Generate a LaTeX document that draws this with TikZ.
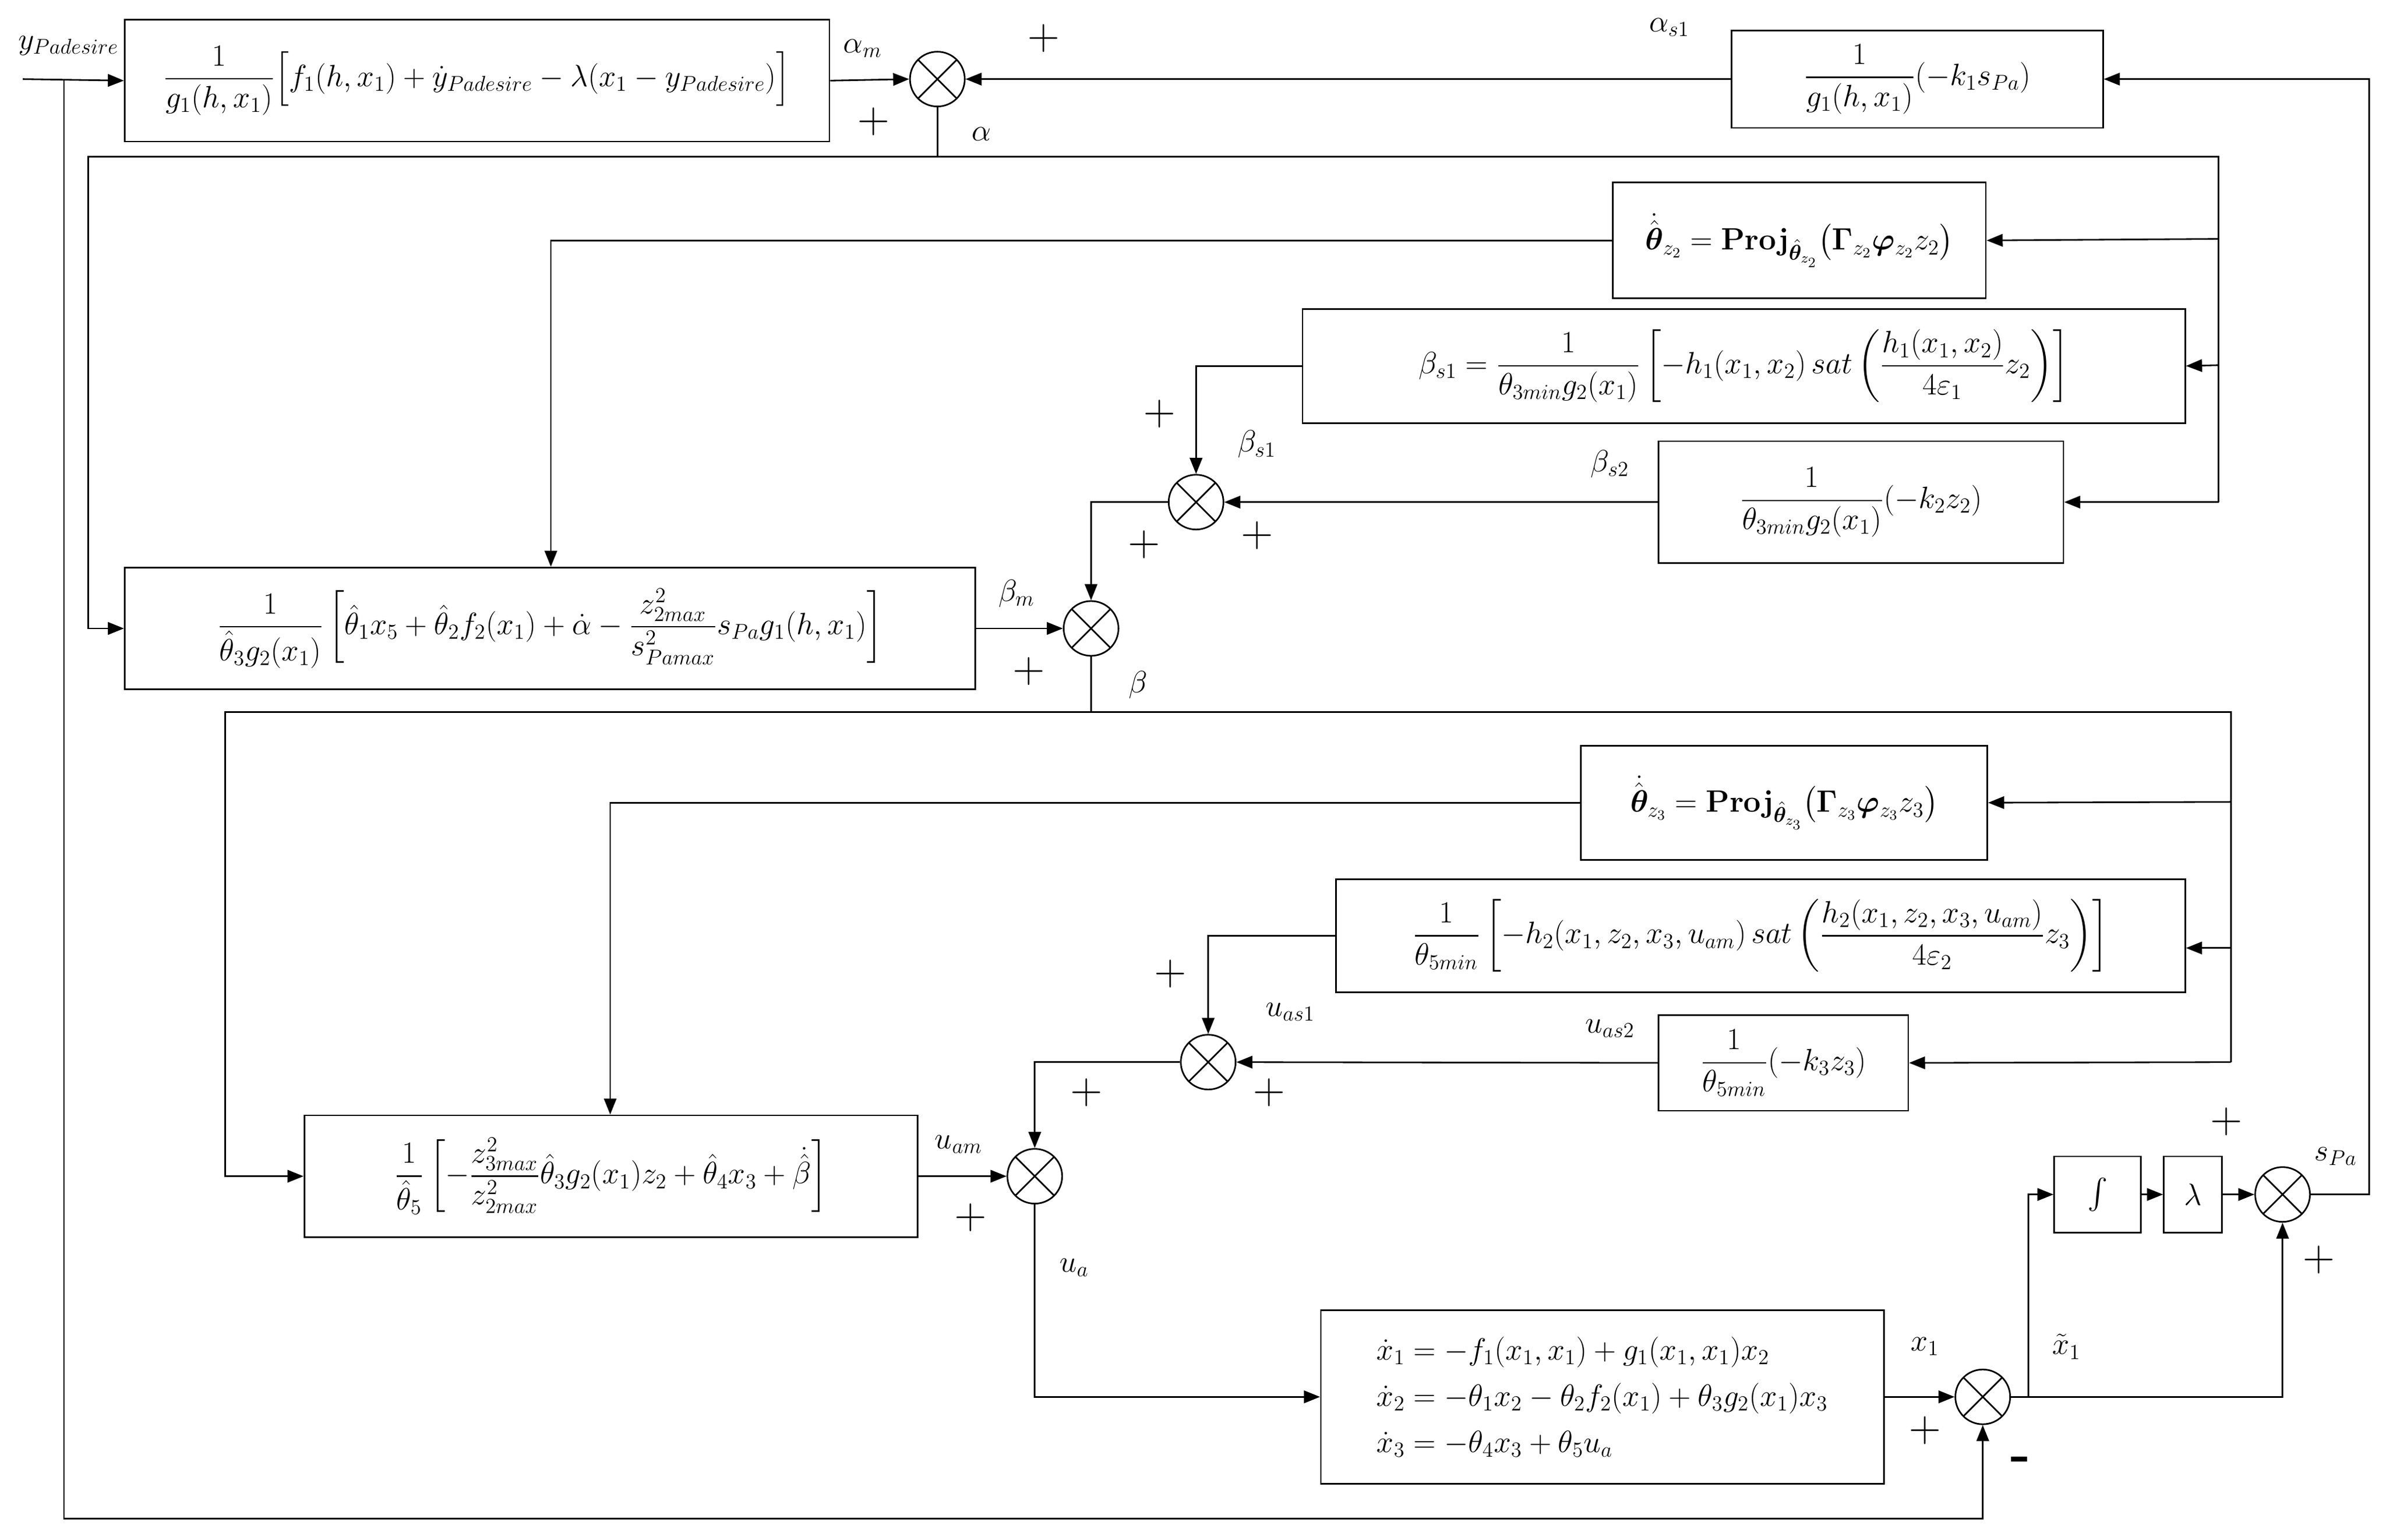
\documentclass[tikz,border=0pt]{standalone}
\usepackage{amsmath,amssymb,bm}
\usetikzlibrary{arrows.meta,calc}
\begin{document}
\begin{tikzpicture}[x=0.03cm,y=-0.03cm,
  every node/.style={font=\fontsize{17}{20}\selectfont},
  box/.style={draw,line width=0.9pt,inner sep=2pt},
  sum/.style={draw,circle,line width=0.9pt,minimum size=1.08cm,inner sep=0pt,
    path picture={\draw[line width=0.9pt] (path picture bounding box.south west)--(path picture bounding box.north east)
      (path picture bounding box.north west)--(path picture bounding box.south east);}},
  ln/.style={line width=0.9pt},
  ar/.style={line width=0.9pt,-{Triangle[length=9pt,width=7pt]}},
  pl/.style={font=\fontsize{30}{30}\selectfont},
  lab/.style={font=\fontsize{18}{20}\selectfont}]
\useasboundingbox (0,0) rectangle (1568,1012);
% boxes
\node[box,minimum width=13.89cm,minimum height=2.4cm] (b1) at (313.5,53)
 {$\dfrac{1}{g_1(h,x_1)}\Big[f_1(h,x_1)+\dot y_{Padesire}-\lambda(x_1-y_{Padesire})\Big]$};
\node[box,minimum width=7.32cm,minimum height=1.92cm] (bas1) at (1260,52)
 {$\dfrac{1}{g_1(h,x_1)}(-k_1 s_{Pa})$};
\node[box,minimum width=7.35cm,minimum height=2.28cm] (t2) at (1182.5,158)
 {$\dot{\hat{\bm\theta}}_{z_2}=\mathbf{Proj}_{\hat{\bm\theta}_{z_2}}\big(\bm\Gamma_{z_2}\bm\varphi_{z_2}z_2\big)$};
\node[box,minimum width=17.4cm,minimum height=2.25cm] (bs1) at (1146,240.5)
 {$\beta_{s1}=\dfrac{1}{\theta_{3min}g_2(x_1)}\left[-h_1(x_1,x_2)\,sat\left(\dfrac{h_1(x_1,x_2)}{4\varepsilon_1}z_2\right)\right]$};
\node[box,minimum width=7.98cm,minimum height=2.4cm] (bs2) at (1223,330)
 {$\dfrac{1}{\theta_{3min}g_2(x_1)}(-k_2z_2)$};
\node[box,minimum width=16.77cm,minimum height=2.4cm] (b2) at (361.5,413)
 {$\dfrac{1}{\hat\theta_3 g_2(x_1)}\left[\hat\theta_1x_5+\hat\theta_2f_2(x_1)+\dot\alpha-\dfrac{z_{2max}^2}{s_{Pamax}^2}s_{Pa}g_1(h,x_1)\right]$};
\node[box,minimum width=8.01cm,minimum height=2.25cm] (t3) at (1172.5,527.5)
 {$\dot{\hat{\bm\theta}}_{z_3}=\mathbf{Proj}_{\hat{\bm\theta}_{z_3}}\big(\bm\Gamma_{z_3}\bm\varphi_{z_3}z_3\big)$};
\node[box,minimum width=16.74cm,minimum height=2.22cm] (ua1) at (1157,615)
 {$\dfrac{1}{\theta_{5min}}\left[-h_2(x_1,z_2,x_3,u_{am})\,sat\left(\dfrac{h_2(x_1,z_2,x_3,u_{am})}{4\varepsilon_2}z_3\right)\right]$};
\node[box,minimum width=4.92cm,minimum height=1.89cm] (ua2) at (1172,698.5)
 {$\dfrac{1}{\theta_{5min}}(-k_3z_3)$};
\node[box,minimum width=12.09cm,minimum height=2.4cm] (b3) at (401.5,773)
 {$\dfrac{1}{\hat\theta_5}\left[-\dfrac{z_{3max}^2}{z_{2max}^2}\hat\theta_3g_2(x_1)z_2+\hat\theta_4x_3+\dot{\hat\beta}\right]$};
\node[box,minimum width=11.1cm,minimum height=3.42cm,align=left] (pl) at (1053,918)
 {$\dot x_1=-f_1(x_1,x_1)+g_1(x_1,x_1)x_2$\\[6pt]
  $\dot x_2=-\theta_1x_2-\theta_2f_2(x_1)+\theta_3g_2(x_1)x_3$\\[6pt]
  $\dot x_3=-\theta_4x_3+\theta_5u_a$};
\node[box,minimum width=1.71cm,minimum height=1.5cm] (int) at (1378.5,785) {$\int$};
\node[box,minimum width=1.14cm,minimum height=1.5cm] (lam) at (1441,785) {$\lambda$};
% sums
\node[sum] (s1) at (616,52) {};
\node[sum] (s2) at (786,330) {};
\node[sum] (s3) at (717,413) {};
\node[sum] (s4) at (794,698) {};
\node[sum] (s5) at (680,773) {};
\node[sum] (s6) at (1303,918) {};
\node[sum] (s7) at (1500,785) {};
% coordinates
\coordinate (in) at (15,52);
\coordinate (jy) at (42,52);
\coordinate (ja) at (616,103);
\coordinate (jb) at (717,468);
% input
\draw[ar] (in) -- (b1.west);
\draw[ar] (jy) |- (1303,998) -- (s6.south);
\draw[ar] (b1.east) -- (s1.west);
\draw[ar] (bas1.west) -- (s1.east);
\draw[ar] (s7.east) -| (1557,52) -- (bas1.east);
% alpha distribution
\draw[ln] (s1.south) -- (ja);
\draw[ar] (ja) -| (58,413) -- (b2.west);
\draw[ln] (ja) -| (1458,330);
\draw[ar] (1458,157) -- (t2.east);
\draw[ar] (1458,240) -- (bs1.east);
\draw[ar] (1458,330) -- (bs2.east);
\draw[ar] (t2.west) -| (b2.north -| 362,0);
\draw[ar] (bs1.west) -| (s2.north);
\draw[ar] (bs2.west) -- (s2.east);
\draw[ar] (s2.west) -| (s3.north);
\draw[ar] (b2.east) -- (s3.west);
% beta distribution
\draw[ln] (s3.south) -- (jb);
\draw[ar] (jb) -| (148,773) -- (b3.west);
\draw[ln] (jb) -| (1466,698);
\draw[ar] (1466,527) -- (t3.east);
\draw[ar] (1466,623) -- (ua1.east |- 0,623);
\draw[ar] (1466,698) -- (ua2.east);
\draw[ar] (t3.west) -| (b3.north -| 401,0);
\draw[ar] (ua1.west) -| (s4.north);
\draw[ar] (ua2.west) -- (s4.east);
\draw[ar] (s4.west) -| (s5.north);
\draw[ar] (b3.east) -- (s5.west);
\draw[ar] (s5.south) |- (pl.west);
\draw[ar] (pl.east) -- (s6.west);
\draw[ar] (s6.east) -| (s7.south);
\draw[ar] (1333,918) |- (int.west);
\draw[ar] (int.east) -- (lam.west);
\draw[ar] (lam.east) -- (s7.west);
% labels
\node[lab] at (45,30) {$y_{Padesire}$};
\node[lab] at (567,32) {$\alpha_m$};
\node[lab] at (645,88) {$\alpha$};
\node[lab] at (1097,18) {$\alpha_{s1}$};
\node[lab] at (826,292) {$\beta_{s1}$};
\node[lab] at (1058,305) {$\beta_{s2}$};
\node[lab] at (668,390) {$\beta_m$};
\node[lab] at (748,450) {$\beta$};
\node[lab] at (848,665) {$u_{as1}$};
\node[lab] at (1058,676) {$u_{as2}$};
\node[lab] at (630,752) {$u_{am}$};
\node[lab] at (706,833) {$u_a$};
\node[lab] at (1265,885) {$x_1$};
\node[lab] at (1358,885) {$\tilde x_1$};
\node[lab] at (1535,760) {$s_{Pa}$};
\foreach \p in {(686,25),(574,80),(762,272),(826,352),(752,358),(676,441),
  (769,640),(834,718),(714,718),(638,800),(1265,940),(1463,737),(1524,828)}
  \node[pl] at \p {$+$};
\node[font=\fontsize{30}{30}\selectfont\bfseries] at (1328,962) {-};
\end{tikzpicture}
\end{document}
